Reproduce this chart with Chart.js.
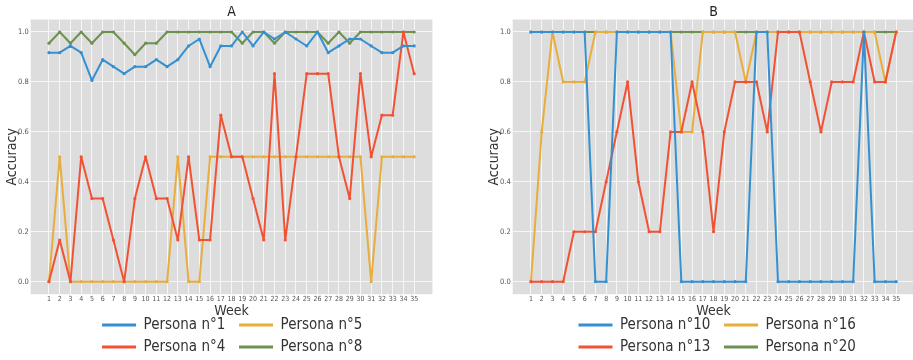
<!DOCTYPE html>
<html><head><meta charset="utf-8">
<script src="https://cdn.jsdelivr.net/npm/chart.js@4/dist/chart.umd.min.js"></script>
<style>
html,body{margin:0;padding:0;background:#fff;overflow:hidden;width:913px;height:360px;}
.wrap{position:absolute;top:0;width:456px;height:360px;}
</style></head><body>
<div class="wrap" style="left:0"><canvas id="cA" width="456" height="360"></canvas></div>
<div class="wrap" style="left:482px"><canvas id="cB" width="456" height="360"></canvas></div>
<script>
const weeks = [1,2,3,4,5,6,7,8,9,10,11,12,13,14,15,16,17,18,19,20,21,22,23,24,25,26,27,28,29,30,31,32,33,34,35];
const yTicks = [0.0,0.2,0.4,0.6,0.8,1.0];

const namesA = ['Persona n°1','Persona n°4','Persona n°5','Persona n°8'];
const persona1 = [0.917,0.917,0.944,0.917,0.806,0.889,0.861,0.833,0.861,0.861,0.889,0.861,0.889,0.944,0.972,0.861,0.944,0.944,1.0,0.944,1.0,0.972,1.0,0.972,0.944,1.0,0.917,0.944,0.972,0.972,0.944,0.917,0.917,0.944,0.944];
const persona4 = [0,0.167,0,0.5,0.333,0.333,0.167,0,0.333,0.5,0.333,0.333,0.167,0.5,0.167,0.167,0.667,0.5,0.5,0.333,0.167,0.833,0.167,0.5,0.833,0.833,0.833,0.5,0.333,0.833,0.5,0.667,0.667,1.0,0.833];
const persona5 = [0,0.5,0,0,0,0,0,0,0,0,0,0,0.5,0,0,0.5,0.5,0.5,0.5,0.5,0.5,0.5,0.5,0.5,0.5,0.5,0.5,0.5,0.5,0.5,0,0.5,0.5,0.5,0.5];
const persona8 = [0.955,1,0.955,1,0.955,1,1,0.955,0.909,0.955,0.955,1,1,1,1,1,1,1,0.955,1,1,0.955,1,1,1,1,0.955,1,0.955,1,1,1,1,1,1];

const namesB = ['Persona n°10','Persona n°13','Persona n°16','Persona n°20'];
const persona10 = [1,1,1,1,1,1,0,0,1,1,1,1,1,1,0,0,0,0,0,0,0,1,1,0,0,0,0,0,0,0,0,1,0,0,0];
const persona13 = [0,0,0,0,0.2,0.2,0.2,0.4,0.6,0.8,0.4,0.2,0.2,0.6,0.6,0.8,0.6,0.2,0.6,0.8,0.8,0.8,0.6,1,1,1,0.8,0.6,0.8,0.8,0.8,1,0.8,0.8,1];
const persona16 = [0,0.6,1,0.8,0.8,0.8,1,1,1,1,1,1,1,1,0.6,0.6,1,1,1,1,0.8,1,1,1,1,1,1,1,1,1,1,1,1,0.8,1];
const persona20 = [1,1,1,1,1,1,1,1,1,1,1,1,1,1,1,1,1,1,1,1,1,1,1,1,1,1,1,1,1,1,1,1,1,1,1];

const colors = ['#3590d2','#f25234','#e8ad3d','#6e9150'];
const FAM = "'Liberation Sans Narrow','DejaVu Sans Condensed','Liberation Sans',sans-serif";
const legendOrder = [0,2,1,3];

const bgPlugin = {
  id: 'plotbg',
  beforeDraw(chart) {
    const {ctx, chartArea: {left, top, width, height}} = chart;
    ctx.save();
    ctx.fillStyle = '#dddddd';
    ctx.fillRect(left, top, width, height);
    ctx.restore();
  }
};

function shiftPlugin(dx) {
  return {
    id: 'legendShift',
    afterLayout(chart) {
      if (chart.legend) { chart.legend.left += dx; chart.legend.right += dx; }
    }
  };
}

function makeChart(id, title, names, series, dx) {
  const datasets = series.map((s, i) => ({
    label: names[i],
    data: weeks.map((w, j) => ({x: w, y: s[j]})),
    borderColor: colors[i],
    backgroundColor: colors[i],
    borderWidth: 2,
    borderJoinStyle: 'round',
    borderCapStyle: 'round',
    pointRadius: 1.6,
    pointHoverRadius: 1.6,
    pointBorderWidth: 0,
    tension: 0,
    clip: false
  }));
  return new Chart(document.getElementById(id), {
    type: 'line',
    data: {datasets},
    plugins: [bgPlugin, shiftPlugin(dx)],
    options: {
      responsive: false,
      animation: false,
      events: [],
      layout: {padding: {top: 0, left: 0, right: 23.6, bottom: -4.5}},
      plugins: {
        tooltip: {enabled: false},
        title: {
          display: true, text: title, fullSize: false, color: '#222',
          font: {size: 14, family: FAM, weight: 'normal'},
          padding: {top: 3.6, bottom: -0.9}
        },
        legend: {
          display: true, position: 'bottom', fullSize: false,
          labels: {
            boxWidth: 34, boxHeight: 3, padding: 7, color: '#333',
            font: {size: 15, family: FAM},
            sort: (a, b) => legendOrder[a.datasetIndex] - legendOrder[b.datasetIndex],
            generateLabels: (chart) => {
              const items = Chart.defaults.plugins.legend.labels.generateLabels(chart);
              items.forEach(it => { it.text = it.text + '\u2002'; it.lineWidth = 0; });
              return items;
            }
          }
        }
      },
      scales: {
        x: {
          type: 'linear', min: -0.7, max: 36.7,
          afterBuildTicks: s => { s.ticks = weeks.map(v => ({value: v})); },
          afterFit: s => { s.height = 16.3; },
          grid: {color: '#f6f6f6', lineWidth: 1, drawTicks: false},
          border: {display: false},
          ticks: {autoSkip: false, maxRotation: 0, minRotation: 0, padding: 1, color: '#555',
                  font: {size: 7, family: FAM}},
          title: {display: true, text: 'Week', color: '#333', font: {size: 14, family: FAM},
                  padding: {top: 0, bottom: -8.9}}
        },
        y: {
          type: 'linear', min: -0.05, max: 1.05,
          afterBuildTicks: s => { s.ticks = yTicks.map(v => ({value: v})); },
          afterFit: s => { s.width = 30.7; },
          grid: {color: '#f6f6f6', lineWidth: 1, drawTicks: false},
          border: {display: false},
          ticks: {padding: 2, color: '#555', font: {size: 7.5, family: FAM},
                  callback: v => Number(v).toFixed(1)},
          title: {display: true, text: 'Accuracy', color: '#333', font: {size: 14, family: FAM},
                  padding: {top: 4, bottom: 0}}
        }
      }
    }
  });
}

makeChart('cA', 'A', namesA, [persona1, persona4, persona5, persona8], 4);
makeChart('cB', 'B', namesB, [persona10, persona13, persona16, persona20], 7);
</script>
</body></html>
